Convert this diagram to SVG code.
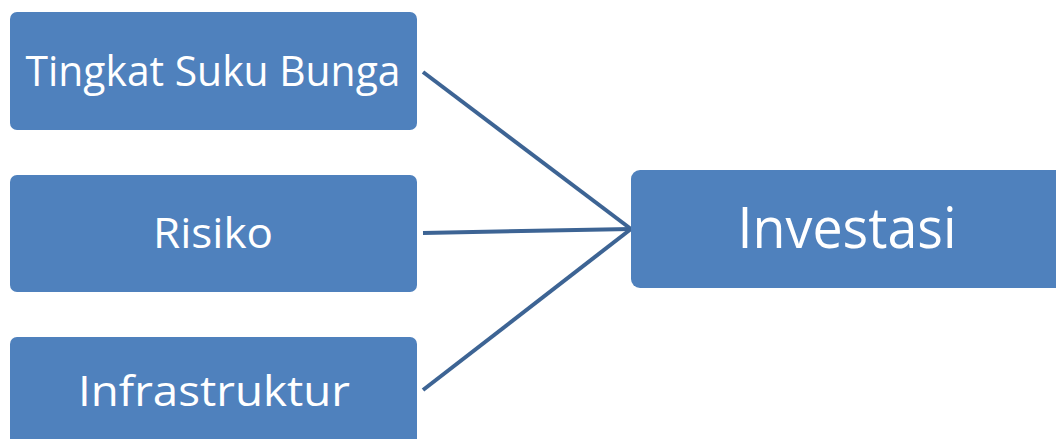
<svg xmlns="http://www.w3.org/2000/svg" width="1056" height="439" viewBox="0 0 1056 439">
<style>
.box{fill:#4f81bd}
.lbl{fill:#ffffff;font-family:"Open Sans","Noto Sans",sans-serif;text-anchor:middle}
.conn{stroke:#3d6494;stroke-width:4;fill:none}
</style>
<rect width="1056" height="439" fill="#ffffff"/>
<g id="connectors">
<line class="conn" x1="423" y1="72" x2="631" y2="229"/>
<line class="conn" x1="423" y1="233" x2="631" y2="229"/>
<line class="conn" x1="423" y1="390" x2="631" y2="229"/>
</g>
<g id="node-tingkat">
<rect class="box" x="10" y="12" width="407" height="118" rx="7"/>
<text class="lbl" x="213" y="86" font-size="42" textLength="375" lengthAdjust="spacingAndGlyphs">Tingkat Suku Bunga</text>
</g>
<g id="node-risiko">
<rect class="box" x="10" y="175" width="407" height="117" rx="7"/>
<text class="lbl" x="213" y="248" font-size="42" textLength="120" lengthAdjust="spacingAndGlyphs">Risiko</text>
</g>
<g id="node-infrastruktur">
<rect class="box" x="10" y="337" width="407" height="118" rx="7"/>
<text class="lbl" x="214" y="406" font-size="42" textLength="272" lengthAdjust="spacingAndGlyphs">Infrastruktur</text>
</g>
<g id="node-investasi">
<rect class="box" x="631" y="170" width="433" height="118" rx="9"/>
<text class="lbl" x="847" y="248" font-size="57" textLength="219" lengthAdjust="spacingAndGlyphs">Investasi</text>
</g>
</svg>
